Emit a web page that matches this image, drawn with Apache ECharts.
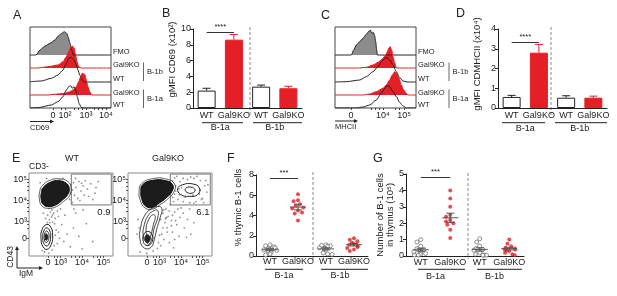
<!DOCTYPE html>
<html>
<head>
<meta charset="utf-8">
<style>
html, body { margin: 0; padding: 0; background: #fff; }
#main { width: 617px; height: 296px; }
</style>
<script src="https://cdn.jsdelivr.net/npm/echarts@6/dist/echarts.min.js"></script>
</head>
<body>
<div id="main"></div>
<script>
// A: CD69 histograms, [channel, height]
var cd69FMO = [[6,0],[10,5],[15,9],[20,11.7],[25,15],[28.3,19],[31.7,21.7],[34.3,23.3],[36.7,21.7],[38.3,17.7],[40,11.7],[41.7,5],[43.3,0]];
var cd69KO1b = [[8,0],[18,1.3],[28,3],[33,6.3],[36.3,11.3],[38.7,16.3],[40.7,20.3],[42.3,22],[44,20.3],[45.3,14.7],[47,6.3],[48.7,1.3],[51.3,0]];
var cd69WT1b = [[0,0.3],[11.3,1],[21.3,3.7],[28,7],[33,12],[36.3,18.7],[38.7,23.7],[41.3,24.7],[44,22],[46.3,17],[48,12],[49.7,7],[52,2],[54.7,0]];
var cd69KO1a = [[18,0],[24.7,0.7],[34.7,1.7],[39.7,3.3],[43,5],[46.3,8.3],[48.7,13.3],[50.7,18.3],[52.3,21.7],[54.7,20.7],[56.3,15],[58,8.3],[59.7,3.3],[62,0]];
var cd69WT1a = [[8,0.3],[21.3,3],[28,6.3],[33,11.3],[36.3,18],[38.7,21.3],[40.7,22.3],[42.3,19.7],[44,21.3],[45.7,18],[47.3,11.3],[49,4.7],[51.3,0.7],[54,0]];
// C: MHCII histograms
var mhcFMO = [[16.3,0],[18.7,5],[21.3,10],[24.7,13.3],[28,16.7],[31.3,20.7],[34,24],[35.3,25],[37,21.7],[38.3,22.7],[39.7,19.3],[40.7,13.3],[41.7,5],[42.3,0]];
var mhcKO1b = [[24.7,0],[31.3,0.7],[38,3],[43,5.7],[47.3,9],[50.7,13],[52.3,16.3],[54,20.3],[55.3,21.3],[56.7,18],[58,11.3],[59.7,4.7],[61.3,0.3],[63,0]];
var mhcWT1b = [[11.3,0.3],[24.7,2],[31.3,5.3],[38,10.3],[43,15.3],[46.3,20.3],[49.7,23.7],[52,24.3],[54.7,22],[58,17],[61.3,10.3],[64.7,4.3],[68,1],[72,0]];
var mhcKO1a = [[28,0],[34.7,1],[41.3,3.3],[48,6.7],[51.3,10],[54.7,15],[57.3,20],[59.7,23.3],[61.3,22.3],[64,16.7],[66.3,10],[68.7,5],[71.3,1.7],[73.3,0]];
var mhcWT1a = [[21.3,0],[28,1],[34.7,3],[41.3,8],[46.3,14.7],[49.7,19.7],[52,22.3],[54.7,21.3],[58,16.3],[61.3,11.3],[64.7,5.7],[66.3,3.7],[68.7,1.7],[71.3,0]];
var rowBase = [53, 40, 26, 13, 0];   // FMO, KO B-1b, WT B-1b, KO B-1a, WT B-1a
var rowNames = ['WT', 'Gal9KO', 'WT', 'Gal9KO', 'FMO'];

// B, D: bars
var barCats = ['WT', 'Gal9KO', 'WT', 'Gal9KO'];
var groups = ['B-1a', 'B-1b'];
var cd69Mean = [2.2, 8.65, 2.7, 2.5];
var cd69Err = [0.3, 0.65, 0.2, 0.25];
var mhcMean = [0.56, 2.8, 0.52, 0.52];
var mhcErr = [0.08, 0.42, 0.1, 0.08];

// E: IgM vs CD43 (decade units), contours and dots
var wtHiCore = [[2.17,4.60],[2.55,4.88],[2.94,4.94],[3.25,4.83],[3.40,4.60],[3.33,4.28],[3.10,4.04],[2.79,3.80],[2.47,3.72],[2.20,3.80],[2.09,4.12],[2.12,4.44]];
var wtHiRing = [[2.12,4.68],[2.52,4.97],[2.96,5.03],[3.33,4.91],[3.49,4.62],[3.41,4.22],[3.14,3.96],[2.80,3.71],[2.45,3.63],[2.14,3.73],[2.01,4.10],[2.04,4.47]];
var wtLoRing1 = [[2.36,2.86],[2.55,2.72],[2.63,2.35],[2.57,1.92],[2.38,1.68],[2.18,1.80],[2.09,2.20],[2.14,2.62]];
var wtLoRing2 = [[2.35,2.70],[2.50,2.55],[2.54,2.30],[2.48,1.98],[2.36,1.84],[2.22,1.95],[2.17,2.25],[2.22,2.55]];
var wtLoRing3 = [[2.35,2.55],[2.45,2.42],[2.46,2.25],[2.40,2.05],[2.32,2.00],[2.25,2.12],[2.24,2.32],[2.28,2.48]];
var wtLoCore = [[2.33,2.42],[2.40,2.32],[2.38,2.15],[2.31,2.12],[2.28,2.25],[2.29,2.38]];
var wtDots = [[2.45,3.62],[2.60,3.55],[2.52,3.45],[2.68,3.40],[2.40,3.30],[2.58,3.22],[2.75,3.15],[2.48,3.08],[2.63,2.98],[2.38,2.95],[2.72,2.90],[2.55,3.70],[2.85,3.50],[2.30,3.15],[2.90,3.25],
  [3.60,4.85],[3.72,4.62],[3.85,4.90],[3.95,4.45],[4.05,4.70],[3.65,4.25],[3.80,4.10],[4.15,4.95],[4.25,4.55],[4.40,4.80],[3.90,4.00],[4.60,4.35],[4.10,4.25],[3.55,4.50],[4.75,4.90],[4.50,4.05],[3.70,5.05],
  [3.45,4.35],[3.50,4.75],[3.42,4.05],[3.55,3.90],
  [2.80,2.60],[3.05,2.85],[3.30,2.40],[2.95,2.20],[3.60,2.70],[3.20,3.30],[3.85,2.30],[4.20,2.90],[2.85,1.95],[3.45,1.80],[4.50,2.05],[3.00,3.60],[3.70,3.40],[2.75,2.35],[4.05,3.55],
  [2.25,1.55],[2.45,1.50],[2.60,1.65],[2.15,1.62],[2.70,1.85],
  [2.95,4.98],[3.10,5.05],[2.05,4.85],[2.35,5.05],[3.62,3.60],[2.95,3.95],[4.30,4.20],[3.98,4.82],[4.65,4.62],[2.50,2.95],[2.90,2.50],[3.15,2.05],[4.00,1.70],[2.20,3.40],[2.62,3.32]];
var koHiCore = [[2.21,4.75],[2.68,4.96],[3.30,4.94],[3.61,4.75],[3.58,4.44],[3.30,4.12],[2.99,3.88],[2.68,3.68],[2.37,3.72],[2.18,4.04],[2.13,4.44]];
var koHiRing = [[2.16,4.80],[2.68,5.04],[3.32,5.02],[3.70,4.78],[3.66,4.40],[3.34,4.04],[3.02,3.80],[2.68,3.60],[2.33,3.64],[2.10,4.02],[2.05,4.46]];
var koTail1 = [[2.29,1.74],[2.09,2.13],[2.13,2.77],[2.29,3.25],[2.55,3.56],[2.91,3.72],[3.11,3.61],[3.02,3.17],[2.86,2.61],[2.75,2.13],[2.60,1.77]];
var koTail2 = [[2.40,1.98],[2.24,2.30],[2.29,2.85],[2.45,3.25],[2.68,3.49],[2.91,3.52],[2.91,3.17],[2.75,2.69],[2.65,2.21],[2.52,1.93]];
var koTail3 = [[2.45,2.21],[2.37,2.61],[2.49,3.09],[2.68,3.32],[2.80,3.25],[2.71,2.85],[2.60,2.37],[2.52,2.18]];
var koLoRing = [[2.45,2.53],[2.65,2.37],[2.68,2.13],[2.55,1.90],[2.37,1.87],[2.24,2.06],[2.26,2.37]];
var koLoCore = [[2.43,2.37],[2.55,2.26],[2.54,2.09],[2.43,1.99],[2.33,2.11],[2.33,2.28]];
var koGate1 = [[3.84,4.56],[4.07,4.75],[4.54,4.79],[4.85,4.60],[4.77,4.28],[4.38,4.20],[3.99,4.28]];
var koGate2 = [[4.20,4.56],[4.46,4.64],[4.65,4.51],[4.54,4.36],[4.27,4.39]];
var koDots = [[3.60,4.95],[3.75,4.70],[3.70,4.30],[3.85,4.05],[3.95,4.90],[4.10,5.05],[4.30,5.00],[4.60,5.05],[4.90,4.95],[5.10,4.70],[5.20,4.40],[5.00,4.10],[4.70,3.95],[4.40,3.90],[4.10,3.95],[3.65,3.95],[3.90,4.55],[4.90,4.50],[5.15,4.95],[3.80,5.15],[4.55,4.25],[4.20,4.15],[5.05,3.90],[3.58,4.55],[4.75,5.15],
  [3.15,3.40],[3.30,3.60],[3.40,3.25],[3.25,2.95],[3.55,3.05],[3.35,2.70],[3.60,2.50],[3.10,2.40],[3.80,2.85],[3.70,3.45],[3.50,3.80],[3.95,3.20],[3.20,2.15],[3.45,2.00],[3.90,2.30],[4.15,2.70],[4.30,3.10],[4.00,3.65],[3.05,1.85],[4.45,2.40],[3.65,1.75],[4.60,2.95],[3.30,3.17],[3.27,3.14],[3.33,3.20],
  [2.05,2.70],[2.00,3.10],[2.10,1.55],[2.40,1.48],[2.70,1.60],[2.90,1.72],[1.95,2.40],
  [3.75,4.45],[3.62,4.15],[3.92,4.28],[4.02,4.62],[4.85,4.30],[5.25,4.75],[4.45,5.12],[3.70,5.08],[4.95,4.05],[4.60,3.88],[3.45,3.50],[3.60,3.30],[3.75,3.05],[3.85,3.60],[4.10,3.40],[3.55,2.80],[3.35,2.50],[3.15,2.70],[3.05,3.10],[4.25,2.25],[3.70,2.15],[3.00,2.35],[2.95,2.00],[3.20,3.55],[4.40,3.60]];
var gateBox = [[3.5, 5.26], [5.36, 3.79]];
var gatePct = ['0.9', '6.1'];
var decadeAt = [3, 4, 5];

// F, G: per mouse values
var fWT1a = [1.1, 1.0, 0.9, 0.8, 0.7, 0.65, 0.6, 0.55, 0.5, 0.35, 0.2, 0.1];
var fKO1a = [6.1, 5.5, 5.4, 5.1, 5.0, 4.8, 4.7, 4.5, 4.3, 4.2, 3.5];
var fWT1b = [1.1, 1.05, 1.0, 0.95, 0.8, 0.75, 0.7, 0.65, 0.3, 0.2, 0.15];
var fKO1b = [1.75, 1.6, 1.45, 1.3, 1.2, 1.1, 1.0, 0.9, 0.8, 0.65, 0.5];
var fMean = [0.62, 4.83, 0.70, 1.11];
var fSem = [0.1, 0.28, 0.1, 0.12];
var gWT1a = [1.0, 0.85, 0.6, 0.45, 0.4, 0.3, 0.25, 0.2, 0.15, 0.1, 0.05, 0.05];
var gKO1a = [4.0, 3.5, 3.0, 2.5, 2.4, 2.2, 2.1, 2.0, 1.9, 1.6, 1.1];
var gWT1b = [1.05, 0.85, 0.6, 0.45, 0.4, 0.35, 0.2, 0.1, 0.05, 0.05, 0.05];
var gKO1b = [1.0, 0.75, 0.6, 0.5, 0.45, 0.4, 0.4, 0.35, 0.3, 0.2, 0.1, 0.05];
var gMean = [0.38, 2.33, 0.40, 0.45];
var gSem = [0.09, 0.28, 0.1, 0.08];

var RED = '#e41f26';
var INK = '#222';
var FONT = '"Liberation Sans", Arial, sans-serif';

function hist(ax, pts, base, color, fill) {
  var d = pts.map(function (p) { return [p[0], base + p[1]]; });
  if (pts[0][0] > 0) d.unshift([0, base]);
  d.push([81, base]);
  return {
    type: 'line', xAxisIndex: ax, yAxisIndex: ax, data: d, symbol: 'none', silent: true,
    smooth: 0.25, smoothMonotone: 'x',
    lineStyle: { color: color, width: 1 },
    areaStyle: fill ? { color: fill, opacity: 1, origin: base } : null
  };
}

function bars(ax, means, sig, sigY) {
  return {
    type: 'bar', xAxisIndex: ax, yAxisIndex: ax, barWidth: 18, silent: true,
    data: means.map(function (v, i) {
      var ko = i % 2 === 1;
      return { value: v, itemStyle: { color: ko ? RED : '#fff', borderColor: ko ? RED : INK, borderWidth: 1 } };
    }),
    markLine: sigLine(sig, sigY)
  };
}

function sigLine(sig, y) {
  return {
    silent: true, symbol: 'none', animation: false,
    lineStyle: { color: '#333', width: 1, type: 'solid' },
    label: { show: true, position: 'insideMiddleTop', distance: 1, formatter: sig, fontSize: 7.5, color: INK },
    data: [[{ coord: [0, y] }, { coord: [1, y] }]]
  };
}

function errBars(ax, means, errs) {
  return {
    type: 'custom', xAxisIndex: ax, yAxisIndex: ax, silent: true, z: 3,
    encode: { x: 0, y: [1, 2] },
    data: means.map(function (v, i) { return [i, v, v + errs[i]]; }),
    renderItem: function (p, api) {
      var lo = api.coord([api.value(0), api.value(1)]);
      var hi = api.coord([api.value(0), api.value(2)]);
      var c = p.dataIndex % 2 ? RED : INK;
      return { type: 'group', children: [
        { type: 'line', shape: { x1: hi[0], y1: lo[1], x2: hi[0], y2: hi[1] }, style: { stroke: c, lineWidth: 1 } },
        { type: 'line', shape: { x1: hi[0] - 4, y1: hi[1], x2: hi[0] + 4, y2: hi[1] }, style: { stroke: c, lineWidth: 1 } }
      ] };
    }
  };
}

function meanSem(ax, means, sems) {
  return {
    type: 'custom', xAxisIndex: ax, yAxisIndex: ax, silent: true, z: 5,
    encode: { x: 0, y: [1, 2, 3] },
    data: means.map(function (v, i) { return [i, v, v - sems[i], v + sems[i]]; }),
    renderItem: function (p, api) {
      var m = api.coord([api.value(0), api.value(1)]);
      var lo = api.coord([api.value(0), api.value(2)]);
      var hi = api.coord([api.value(0), api.value(3)]);
      var s = { stroke: '#555', lineWidth: 1 };
      return { type: 'group', children: [
        { type: 'line', shape: { x1: m[0] - 8, y1: m[1], x2: m[0] + 8, y2: m[1] }, style: s },
        { type: 'line', shape: { x1: m[0], y1: lo[1], x2: m[0], y2: hi[1] }, style: s },
        { type: 'line', shape: { x1: m[0] - 4, y1: lo[1], x2: m[0] + 4, y2: lo[1] }, style: s },
        { type: 'line', shape: { x1: m[0] - 4, y1: hi[1], x2: m[0] + 4, y2: hi[1] }, style: s }
      ] };
    }
  };
}

function dots(ax, wt, ko, sig, sigY) {
  var wtData = wt[0].map(function (v) { return [0, v]; }).concat(wt[1].map(function (v) { return [2, v]; }));
  var koData = ko[0].map(function (v) { return [1, v]; }).concat(ko[1].map(function (v) { return [3, v]; }));
  return [
    { type: 'scatter', xAxisIndex: ax, yAxisIndex: ax, data: wtData, symbol: 'circle', symbolSize: 4, silent: true, z: 4,
      itemStyle: { color: '#fff', borderColor: '#555', borderWidth: 0.8 } },
    { type: 'scatter', xAxisIndex: ax, yAxisIndex: ax, data: koData, symbol: 'circle', symbolSize: 4, silent: true, z: 4,
      itemStyle: { color: RED }, markLine: sigLine(sig, sigY) }
  ];
}

function shape(ax, pts, fill, stroke, w) {
  return {
    type: 'custom', xAxisIndex: ax, yAxisIndex: ax, silent: true, z: 4,
    data: [pts[0]],
    renderItem: function (p, api) {
      return { type: 'polygon', shape: { points: pts.map(function (q) { return api.coord(q); }), smooth: 0.5 },
        style: { fill: fill, stroke: stroke, lineWidth: w } };
    }
  };
}

function flowDots(ax, pts, pct) {
  return {
    type: 'scatter', xAxisIndex: ax, yAxisIndex: ax, data: pts, symbolSize: 1.8, silent: true, z: 2,
    itemStyle: { color: '#777' },
    markArea: {
      silent: true,
      itemStyle: { color: 'rgba(0,0,0,0)', borderColor: '#777', borderWidth: 1 },
      label: { show: true, position: ['97%', '100%'], align: 'right', verticalAlign: 'top', padding: [2, 0, 0, 0],
        formatter: pct, fontSize: 9.5, color: INK },
      data: [[{ coord: gateBox[0] }, { coord: gateBox[1] }]]
    }
  };
}

var lab = { fontSize: 9, color: INK, fontFamily: FONT };

function histX(gi, at, names, ticks) {
  return {
    type: 'value', gridIndex: gi, min: 0, max: 81, splitLine: { show: false }, axisLine: { show: false },
    axisTick: { show: true, customValues: ticks, length: 2, lineStyle: { color: '#444' } },
    axisLabel: Object.assign({ customValues: at, margin: 3, formatter: function (v) { return names[at.indexOf(v)]; } }, lab)
  };
}
function flowAx(gi, min, max, zero) {
  var at = [zero].concat(decadeAt);
  return {
    type: 'value', gridIndex: gi, min: min, max: max, splitLine: { show: false }, axisLine: { show: false },
    axisTick: { show: true, length: 2, lineStyle: { color: '#555' },
      customValues: [zero, 2.7, 2.85, 3, 3.5, 3.7, 3.85, 4, 4.5, 4.7, 4.85, 5] },
    axisLabel: Object.assign({ customValues: at, margin: 2,
      formatter: function (v) { return v === zero ? '0' : '10' + ['³', '⁴', '⁵'][v - 3]; } }, lab)
  };
}
function catX(gi, margin) {
  return {
    type: 'category', gridIndex: gi, data: barCats, axisLine: { lineStyle: { color: INK } },
    axisTick: { show: false }, axisLabel: Object.assign({ margin: margin, interval: 0 }, lab),
    jitter: 14, jitterOverlap: false, jitterMargin: 0.5
  };
}
function groupX(gi, off) {
  return {
    type: 'category', gridIndex: gi, data: groups, position: 'bottom', offset: off,
    axisLine: { show: false }, axisTick: { show: false }, axisLabel: Object.assign({ margin: 4 }, lab)
  };
}
function valY(gi, max, step, name, gap, pad) {
  return {
    type: 'value', gridIndex: gi, min: 0, max: max, interval: step, splitLine: { show: false },
    axisLine: { show: true, lineStyle: { color: INK } },
    axisTick: { show: true, length: 3, lineStyle: { color: INK } },
    axisLabel: Object.assign({ margin: 2 }, lab),
    name: name, nameLocation: 'middle', nameGap: gap,
    nameTextStyle: { fontSize: 9.5, color: INK, fontFamily: FONT, lineHeight: 10, padding: [0, 0, 0, pad] }
  };
}
function rowY(gi) {
  var at = [3, 15, 29, 43, 56];
  return {
    type: 'value', gridIndex: gi, position: 'right', min: 0, max: 81, splitLine: { show: false },
    axisLine: { show: false }, axisTick: { show: false },
    axisLabel: { customValues: at, margin: 2, fontSize: 7.5, color: INK, fontFamily: FONT,
      formatter: function (v) { return rowNames[at.indexOf(v)]; } }
  };
}

var box = { show: true, borderColor: '#444', borderWidth: 1, backgroundColor: 'transparent', outerBoundsMode: 'none' };
var plain = { outerBoundsMode: 'none' };
var flowBox = { show: true, borderColor: '#8a8a8a', borderWidth: 1, backgroundColor: 'transparent', outerBoundsMode: 'none' };

function txt(x, y, s, size, extra) {
  var st = Object.assign({ text: s, fontSize: size, fill: INK, fontFamily: FONT, align: 'left', verticalAlign: 'middle' }, extra || {});
  return { type: 'text', x: x, y: y, style: st, silent: true };
}
function seg(x1, y1, x2, y2, color, dash) {
  return { type: 'line', shape: { x1: x1, y1: y1, x2: x2, y2: y2 }, silent: true,
    style: { stroke: color || INK, lineWidth: 1, lineDash: dash || null } };
}
function head(pts) {
  return { type: 'polygon', shape: { points: pts }, style: { fill: INK }, silent: true };
}

var graphics = [
  txt(13, 15.5, 'A', 12.5), txt(162, 14, 'B', 12.5), txt(321, 15.5, 'C', 12.5), txt(456, 14, 'D', 12.5),
  txt(12, 158.5, 'E', 12.5), txt(227, 158.5, 'F', 12.5), txt(373, 158.5, 'G', 12.5),
  // A / C annotations
  seg(143.5, 62.5, 143.5, 81, '#666'), seg(143.5, 89.5, 143.5, 108, '#666'),
  txt(147, 72, 'B-1b', 7.5), txt(147, 99, 'B-1a', 7.5),
  seg(449, 62.5, 449, 81, '#666'), seg(449, 89.5, 449, 108, '#666'),
  txt(452.5, 72, 'B-1b', 7.5), txt(452.5, 99, 'B-1a', 7.5),
  seg(30, 121.5, 51, 121.5), head([[50, 119.5], [54, 121.5], [50, 123.5]]), txt(30, 127.5, 'CD69', 7.5),
  seg(335, 121, 355, 121), head([[354, 119], [358, 121], [354, 123]]), txt(335, 127, 'MHCII', 7.5),
  // B / D
  seg(250, 27, 250, 115, '#888', [3, 2]), seg(551, 27, 551, 115, '#888', [3, 2]),
  seg(202, 122.7, 243, 122.7), seg(253, 122.7, 302, 122.7),
  seg(502, 122.7, 545, 122.7), seg(555, 122.7, 607, 122.7),
  // E
  txt(72, 158.5, 'WT', 9, { align: 'center' }), txt(168, 158.5, 'Gal9KO', 9, { align: 'center' }),
  txt(29, 167, 'CD3-', 8.5),
  seg(17, 268, 17, 249), head([[15, 250], [17, 246], [19, 250]]),
  seg(17, 268, 40, 268), head([[39, 266], [43, 268], [39, 270]]),
  { type: 'text', x: 11, y: 257, rotation: Math.PI / 2, silent: true,
    style: { text: 'CD43', fontSize: 8.5, fill: INK, fontFamily: FONT, align: 'center', verticalAlign: 'middle' } },
  txt(19, 274, 'IgM', 8.5),
  // F / G
  seg(313, 172, 313, 260, '#888', [3, 2]), seg(468, 173, 468, 259, '#888', [3, 2]),
  seg(265, 269.3, 303, 269.3), seg(321, 269.3, 368, 269.3),
  seg(418, 269.3, 465, 269.3), seg(477, 269.3, 522, 269.3)
];

var option = {
  animation: false,
  textStyle: { fontFamily: FONT },
  grid: [
    Object.assign({ left: 30, top: 27, width: 81, height: 81 }, box),
    Object.assign({ left: 193, top: 29, width: 109, height: 79 }, plain),
    Object.assign({ left: 335, top: 27, width: 81, height: 81 }, box),
    Object.assign({ left: 498, top: 29, width: 109, height: 79 }, plain),
    Object.assign({ left: 29, top: 173, width: 84, height: 83 }, flowBox),
    Object.assign({ left: 128, top: 173, width: 84, height: 83 }, flowBox),
    Object.assign({ left: 256, top: 175, width: 112, height: 81 }, plain),
    Object.assign({ left: 406, top: 174, width: 118, height: 82 }, plain)
  ],
  xAxis: [
    histX(0, [23, 35, 56, 76], ['0', '10²', '10³', '10⁴'], [23, 31, 35, 44, 48, 52, 56, 64, 68, 72, 76]),
    catX(1, 3.5),
    histX(2, [16, 48, 69], ['0', '10⁴', '10⁵'], [16, 36, 40, 44, 48, 60, 64, 69]),
    catX(3, 3.5),
    flowAx(4, 1.53, 5.44, 2.41),
    flowAx(5, 1.53, 5.44, 2.41),
    catX(6, 1.5),
    catX(7, 2),
    groupX(1, 11.5), groupX(3, 12), groupX(6, 11.5), groupX(7, 12)
  ],
  yAxis: [
    { type: 'value', gridIndex: 0, min: 0, max: 81, show: false },
    valY(1, 10, 2, 'gMFI CD69 (x10²)', 15, 18),
    { type: 'value', gridIndex: 2, min: 0, max: 81, show: false },
    valY(3, 4, 1, 'gMFI CDMHCII (x10⁴)', 16, 9),
    flowAx(4, 1.36, 5.31, 2.21),
    flowAx(5, 1.36, 5.31, 2.21),
    valY(6, 8, 2, '% thymic B-1 cells', 13, 16),
    valY(7, 5, 1, 'Number of B-1 cells\nin thymus (10⁵)', 8, 0),
    rowY(0), rowY(2)
  ],
  series: [
    hist(0, cd69FMO, rowBase[0], INK, '#8c8c8c'),
    hist(0, cd69KO1b, rowBase[1], RED, RED),
    hist(0, cd69WT1b, rowBase[2], INK, null),
    hist(0, cd69KO1a, rowBase[3], RED, RED),
    hist(0, cd69WT1a, rowBase[4], INK, null),
    hist(2, mhcFMO, rowBase[0], INK, '#8c8c8c'),
    hist(2, mhcKO1b, rowBase[1], RED, RED),
    hist(2, mhcWT1b, rowBase[2], INK, null),
    hist(2, mhcKO1a, rowBase[3], RED, RED),
    hist(2, mhcWT1a, rowBase[4], INK, null),
    bars(1, cd69Mean, '****', 9.6), errBars(1, cd69Mean, cd69Err),
    bars(3, mhcMean, '****', 3.35), errBars(3, mhcMean, mhcErr),
    flowDots(4, wtDots, gatePct[0]),
    shape(4, wtHiRing, 'none', '#333', 0.8),
    shape(4, wtHiCore, '#1c1c1c', '#111', 1),
    shape(4, wtLoRing1, 'none', '#222', 1),
    shape(4, wtLoRing2, 'none', '#222', 1),
    shape(4, wtLoRing3, 'none', '#222', 1),
    shape(4, wtLoCore, '#222', '#222', 1),
    flowDots(5, koDots, gatePct[1]),
    shape(5, koTail1, 'none', '#333', 0.9),
    shape(5, koTail2, 'none', '#333', 0.9),
    shape(5, koTail3, 'none', '#333', 0.9),
    shape(5, koHiRing, 'none', '#333', 0.8),
    shape(5, koHiCore, '#1c1c1c', '#111', 1),
    shape(5, koLoRing, 'none', '#222', 1),
    shape(5, koLoCore, '#222', '#222', 1),
    shape(5, koGate1, 'none', '#222', 1),
    shape(5, koGate2, 'none', '#222', 1),
    meanSem(6, fMean, fSem), meanSem(7, gMean, gSem)
  ].concat(dots(6, [fWT1a, fWT1b], [fKO1a, fKO1b], '***', 7.7))
   .concat(dots(7, [gWT1a, gWT1b], [gKO1a, gKO1b], '***', 4.83)),
  graphic: graphics
};

var myChart = echarts.init(document.getElementById('main'));
myChart.setOption(option);
</script>
</body>
</html>
